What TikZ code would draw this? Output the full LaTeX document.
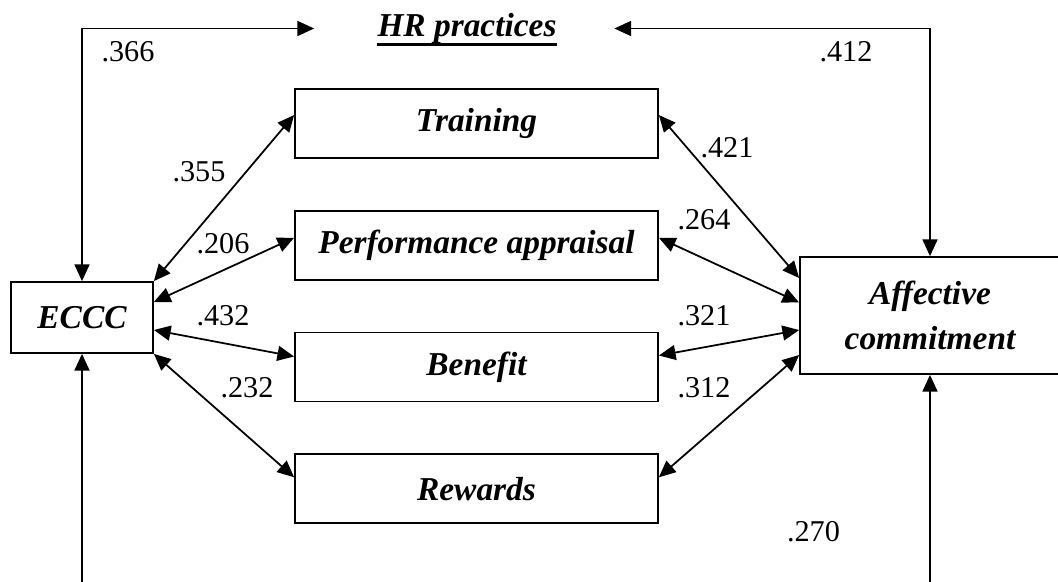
\documentclass[tikz,border=0pt]{standalone}
\usepackage{fontspec}
\setmainfont{Liberation Serif}
\usetikzlibrary{
        arrows.meta,
        positioning
    }
\tikzset{>={Triangle[length=9.5pt,width=8.5pt]}}
\tikzset{
    factor/.style={draw,minimum width=7.26cm,minimum height=1.38cm,inner sep=0pt,
        font=\fontsize{19}{25.5}\selectfont\bfseries\itshape},
    coef/.style={inner sep=0pt,font=\fontsize{17.2}{20}\selectfont}
}

\begin{document}
\begin{tikzpicture}[line width=1pt,node distance=1.02cm]
    \useasboundingbox (0,0) rectangle (21.16,-11.62);
    % the four practices in one column
    \node[factor] (train) at (9.53,-2.47) {Training};
    \node[factor] (perf) [below=of train] {Performance appraisal};
    \node[factor] (bene) [below=of perf] {Benefit};
    \node[factor] (rew) [below=of bene] {Rewards};
    \node[factor,minimum width=2.84cm,minimum height=1.42cm] (eccc) at (1.64,-6.35) {ECCC};
    \node[factor,minimum width=5.2cm,minimum height=2.34cm,align=center] (ac) at (18.6,-6.31) {Affective\\commitment};
    \node[inner sep=0pt,font=\fontsize{19}{25.5}\selectfont\bfseries\itshape] (hr) at (9.34,-0.57) {HR practices};
    \draw[line width=1.6pt] ([yshift=-4.5pt]hr.base west) -- ([yshift=-4.5pt]hr.base east);

    \coordinate (ebase) at (1.64,-11.75);
    \coordinate (abase) at (18.6,-11.75);

    \draw[<->] ([xshift=-1.25cm]hr.west) -| (eccc.north);
    \draw[<->] ([xshift=1.14cm]hr.east) -| (ac.north);
    \draw[->] (ebase) -- (eccc.south);
    \draw[->] (abase) -- (ac.south);

    \draw[<->] (eccc.north east) -- ([yshift=0.17cm]train.west);
    \draw[<->] ([yshift=0.31cm]eccc.east) -- ([yshift=0.15cm]perf.west);
    \draw[<->] ([yshift=-0.25cm]eccc.east) -- ([yshift=0.21cm]bene.west);
    \draw[<->] (eccc.south east) -- ([yshift=0.23cm]rew.west);

    \draw[<->] ([yshift=0.17cm]train.east) -- ([yshift=0.75cm]ac.west);
    \draw[<->] ([yshift=0.15cm]perf.east) -- ([yshift=0.26cm]ac.west);
    \draw[<->] ([yshift=0.23cm]bene.east) -- ([yshift=-0.29cm]ac.west);
    \draw[<->] ([yshift=0.23cm]rew.east) -- ([yshift=-0.79cm]ac.west);

    % coefficients
    \node[coef] (c366) at (2.56,-1.03) {.366};
    \node[coef] (c412) at (16.92,-1.03) {.412};
    \node[coef] (c355) at (3.98,-3.43) {.355};
    \node[coef] (c206) at (4.46,-4.87) {.206};
    \node[coef] (c432) at (4.46,-6.32) {.432};
    \node[coef] (c232) at (4.94,-7.75) {.232};
    \node[coef] (c421) at (14.54,-2.96) {.421};
    \node[coef] (c264) at (14.08,-4.39) {.264};
    \node[coef] (c321) at (14.08,-6.32) {.321};
    \node[coef] (c312) at (14.08,-7.75) {.312};
    \node[coef] (c270) at (16.27,-10.63) {.270};
\end{tikzpicture}
\end{document}
